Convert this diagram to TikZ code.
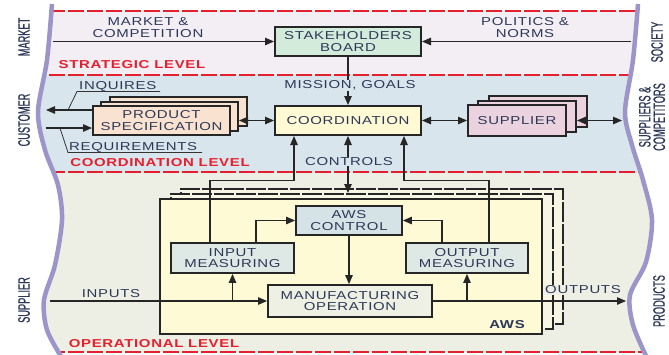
\documentclass[tikz,border=0pt]{standalone}
\usepackage{fontspec}
\setmainfont{Liberation Sans}[FakeStretch=1.3,LetterSpace=6]
\newfontfamily\narrowfont{Liberation Sans}[FakeStretch=0.56,FakeBold=0.6]
\usetikzlibrary{arrows.meta,calc}
\definecolor{txt}{HTML}{2D3857}
\definecolor{redl}{HTML}{E5202E}
\definecolor{bandA}{HTML}{F3EEF4}
\definecolor{bandB}{HTML}{D8E5EC}
\definecolor{bandC}{HTML}{EDEEE4}
\definecolor{bordc}{HTML}{9C95C9}
\definecolor{greenbox}{HTML}{D3EBDA}
\definecolor{yellowbox}{HTML}{FFF9D4}
\definecolor{peach}{HTML}{F9E3D0}
\definecolor{pinkbox}{HTML}{EAD3DF}
\definecolor{ctrlbox}{HTML}{D6E3E6}
\definecolor{measbox}{HTML}{DEE8E5}
\definecolor{manbox}{HTML}{EDF0E3}
\definecolor{awsfront}{HTML}{FFFAD6}
\definecolor{awsback}{HTML}{F7F5E4}
\newcommand\bxfont{\fontsize{11.5}{11.5}\selectfont}
\newcommand\sdfont{\narrowfont\fontsize{16.5}{14.5}\selectfont}
\tikzset{
  box/.style={draw=black!85, line width=2pt, inner sep=0pt, align=center, font=\bxfont, text=txt},
  lbl/.style={inner sep=0.5pt, align=center, font=\bxfont, text=txt},
  lvl/.style={inner sep=0pt, font=\bxfont\bfseries, text=redl},
  side/.style={rotate=90, inner sep=0pt, align=center, font=\sdfont, text=txt},
  arr/.style={draw=black!85, line width=1.1pt, -{Triangle[length=9pt,width=7.5pt]}},
  dblarr/.style={draw=black!85, line width=1.1pt, {Triangle[length=9pt,width=7.5pt]}-{Triangle[length=9pt,width=7.5pt]}},
  lead/.style={draw=black!80, line width=0.8pt},
  reddash/.style={draw=redl, line width=1.4pt, dash pattern=on 16pt off 3pt},
  backdash/.style={draw=black!85, line width=2pt, dash pattern=on 20pt off 2pt, fill=awsback},
  bord/.style={draw=bordc, line width=4.5pt}
}
\begin{document}
\begin{tikzpicture}[x=1pt,y=-1pt]
\useasboundingbox (0,0) rectangle (669,354);
% bands
\fill[bandA] (30,11) rectangle (665,75);
\fill[bandB] (30,75) rectangle (665,172);
\fill[bandC] (30,172) rectangle (665,352);
\foreach \yy in {11,75,172,352} \draw[reddash] (30,\yy) -- (665,\yy);
% white outside the borders
\fill[white] (0,-5) -- (52,-5) -- plot[smooth] coordinates {(52,4) (47,60) (38,112) (45,150) (58,185) (62,220) (55,265) (44,300) (47,330) (62,358)} -- (0,360) -- cycle;
\fill[white] (669,-5) -- (638,-5) -- plot[smooth] coordinates {(638,4) (633,60) (625,112) (632,145) (643,180) (652,220) (646,262) (630,295) (633,325) (647,358)} -- (669,360) -- cycle;
\draw[bord] plot[smooth] coordinates {(52,4) (47,60) (38,112) (45,150) (58,185) (62,220) (55,265) (44,300) (47,330) (62,358)};
\draw[bord] plot[smooth] coordinates {(638,4) (633,60) (625,112) (632,145) (643,180) (652,220) (646,262) (630,295) (633,325) (647,358)};
% side labels
\node[side] (mk) at (24,37) {MARKET};
\node[side] (cu) at (24,120) {CUSTOMER};
\node[side] (su) at (24,300) {SUPPLIER};
\node[side] (so) at (657,42) {SOCIETY};
\node[side] (sc) at (652,117) {SUPPLIERS \&\\COMPETITORS};
\node[side] (pr) at (659,301) {PRODUCTS};
% level labels
\node[lvl] (lv1) at (132,65) {STRATEGIC LEVEL};
\node[lvl] (lv2) at (160,163) {COORDINATION LEVEL};
\node[lvl] (lv3) at (154,344) {OPERATIONAL LEVEL};
% strategic
\node[box, fill=greenbox, minimum width=146pt, minimum height=29pt] (board) at (348,41.5) {STAKEHOLDERS\\BOARD};
\node[lbl] (mc) at (148,27.5) {MARKET \&\\COMPETITION};
\node[lbl] (pn) at (525,27.5) {POLITICS \&\\NORMS};
\coordinate (mktL) at (53,41.5);
\coordinate (polR) at (631,41.5);
\draw[arr] (mktL) -- (board.west);
\draw[arr] (polR) -- (board.east);
% coordination
\node[box, fill=yellowbox, minimum width=146pt, minimum height=29pt] (coord) at (348,120.5) {COORDINATION};
\draw[arr] (board.south) -- (coord.north);
\node[lbl, fill=bandB] (mg) at (350,85.5) {MISSION, GOALS};
\node[box, fill=peach, minimum width=137pt, minimum height=29pt] (ps3) at (178.5,111.5) {};
\node[box, fill=peach, minimum width=137pt, minimum height=29pt] (ps2) at (169.5,116) {};
\node[box, fill=peach, minimum width=137pt, minimum height=29pt] (ps) at (161.5,120.5) {PRODUCT\\SPECIFICATION};
\node[box, fill=pinkbox, minimum width=98pt, minimum height=31pt] (sup3) at (538,111.5) {};
\node[box, fill=pinkbox, minimum width=98pt, minimum height=31pt] (sup2) at (527,116) {};
\node[box, fill=pinkbox, minimum width=98pt, minimum height=31pt] (sup) at (517,120.5) {SUPPLIER};
\draw[dblarr] (ps2.east |- coord.west) -- (coord.west);
\draw[dblarr] (coord.east) -- (sup.west);
\coordinate (supR) at (622,120.5);
\draw[dblarr] (sup2.east |- supR) -- (supR);
\coordinate (inqL) at (46,110);
\coordinate (reqL) at (46,128);
\draw[arr] (ps.west |- inqL) -- (inqL);
\draw[arr] (reqL) -- (ps.west |- reqL);
\node[lbl, anchor=base west, inner sep=0pt] (inq) at (79,89.5) {INQUIRES};
\node[lbl, anchor=base west, inner sep=0pt] (req) at (69,150.5) {REQUIREMENTS};
\coordinate (inqA) at (68,110);
\coordinate (inqB) at (77,91.5);
\coordinate (inqC) at (160,91.5);
\coordinate (reqA) at (60,128);
\coordinate (reqB) at (68,152.5);
\coordinate (reqC) at (202,152.5);
\draw[lead] (inqA) -- (inqB) -- (inqC);
\draw[lead] (reqA) -- (reqB) -- (reqC);
% operational
\node[backdash, minimum width=382pt, minimum height=135pt, inner sep=0pt] (aws3) at (372,256.5) {};
\node[backdash, minimum width=382pt, minimum height=135pt, inner sep=0pt] (aws2) at (361.5,261.5) {};
\node[draw=black!85, line width=2.5pt, fill=awsfront, minimum width=382pt, minimum height=135pt, inner sep=0pt] (aws) at (351,266.5) {};
\node[inner sep=0pt, font=\bxfont\bfseries, text=txt] (awsl) at (507,325) {AWS};
\node[box, fill=ctrlbox, minimum width=106pt, minimum height=29pt, line width=1.8pt] (ctrl) at (349,220.5) {AWS\\CONTROL};
\node[box, fill=measbox, minimum width=123pt, minimum height=30pt, line width=1.8pt] (inm) at (232.5,258) {INPUT\\MEASURING};
\node[box, fill=measbox, minimum width=122pt, minimum height=30pt, line width=1.8pt] (outm) at (467,258) {OUTPUT\\MEASURING};
\node[box, fill=manbox, minimum width=164pt, minimum height=32pt, line width=1.8pt] (man) at (350,301) {MANUFACTURING\\OPERATION};
% controls
\draw[dblarr] (coord.south) -- (coord.south |- aws2.north);
\node[lbl, fill=bandB] (ctl) at (349,161.5) {CONTROLS};
\coordinate (c1) at ([xshift=-54pt]coord.south);
\coordinate (c2) at ([xshift=56pt]coord.south);
\draw[arr] ([xshift=-22.5pt]inm.north) -- ++(0,-62) -| (c1);
\draw[arr] ([xshift=22pt]outm.north) -- ++(0,-62) -| (c2);
\draw[arr] ([xshift=23.5pt]inm.north) |- (ctrl.west);
\draw[arr] ([xshift=-25pt]outm.north) |- (ctrl.east);
\draw[arr] (ctrl.south) -- (ctrl.south |- man.north);
\coordinate (inL) at (50,301);
\coordinate (outR) at (626,301);
\draw[arr] (inL) -- (man.west);
\draw[arr] (inm.south |- man.west) -- (inm.south);
\draw[arr] (man.east) -- (outR);
\draw[arr] (outm.south |- man.east) -- (outm.south);
\node[lbl] (inp) at (111,294) {INPUTS};
\node[lbl, fill=bandC, inner sep=1pt] (outp) at (583,290) {OUTPUTS};
\end{tikzpicture}
\end{document}
